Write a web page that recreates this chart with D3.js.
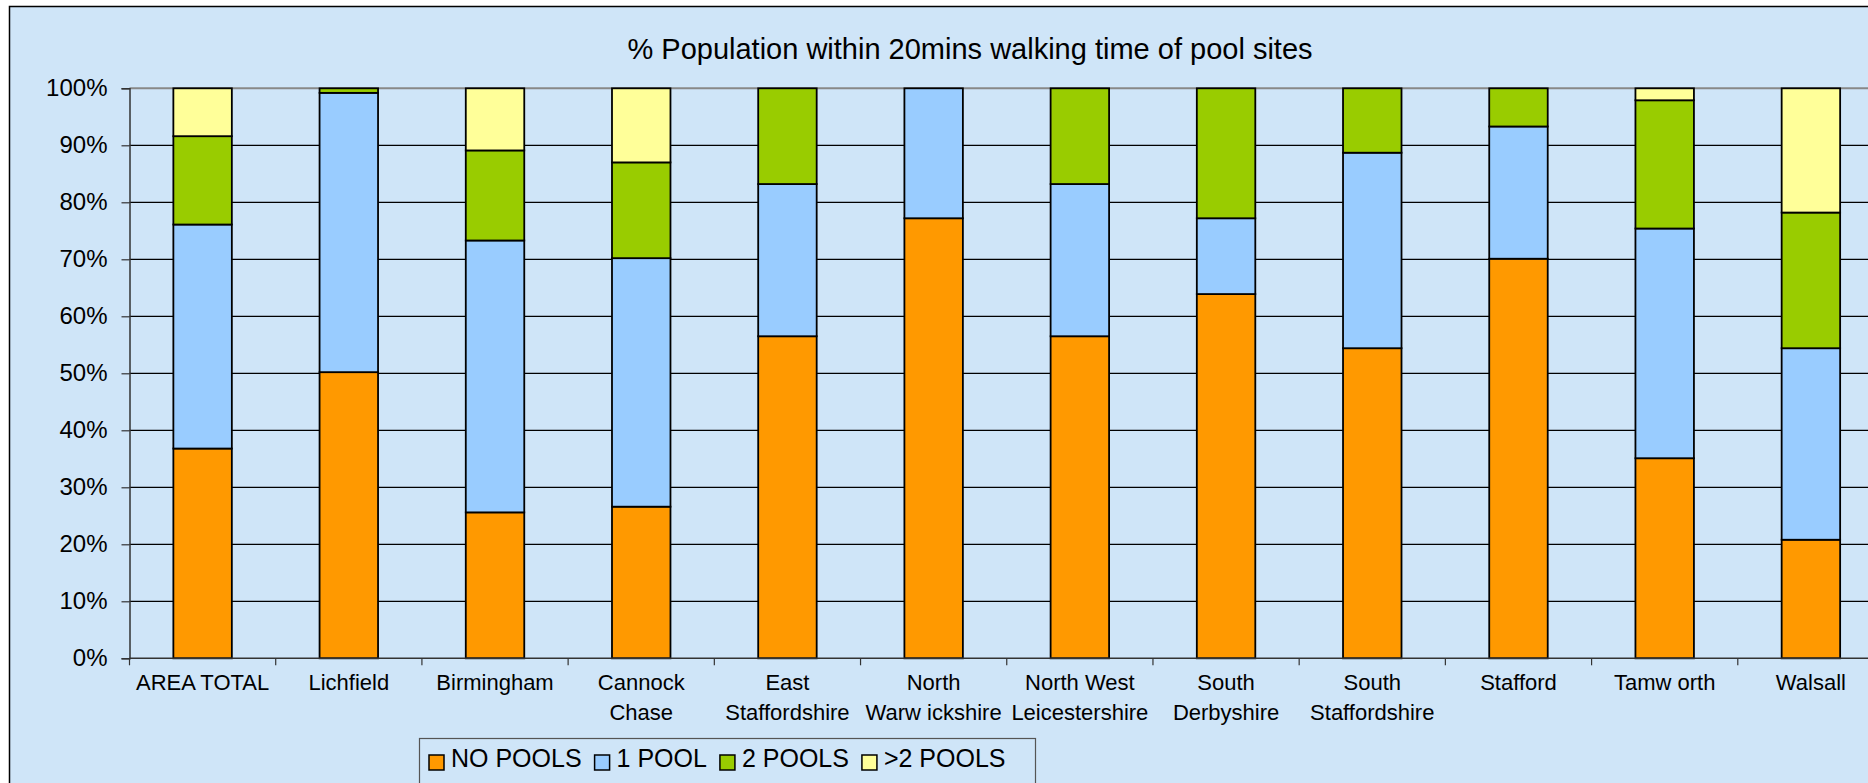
<!DOCTYPE html>
<html>
<head>
  <meta charset="utf-8">
  <script src="https://d3js.org/d3.v7.min.js"></script>
  <style>
    html, body { margin: 0; padding: 0; background: #fff; }
    svg { display: block; font-family: "Liberation Sans", Arial, sans-serif; }
  </style>
</head>
<body>
  <div id="chart"></div>
  <script>
    // categories (\n = line break in the axis label)
    var categories = ["AREA TOTAL", "Lichfield", "Birmingham", "Cannock\nChase", "East\nStaffordshire",
      "North\nWarw ickshire", "North West\nLeicestershire", "South\nDerbyshire", "South\nStaffordshire",
      "Stafford", "Tamw orth", "Walsall"];

    var seriesNames = ["NO POOLS", "1 POOL", "2 POOLS", ">2 POOLS"];
    var seriesColors = ["#FF9900", "#99CCFF", "#99CC00", "#FFFF99"];

    // percentages
    var noPools  = [36.8, 50.2, 25.6, 26.6, 56.5, 77.2, 56.5, 63.9, 54.4, 70.1, 35.1, 20.8];
    var onePool  = [39.3, 49.0, 47.7, 43.6, 26.7, 22.8, 26.7, 13.3, 34.3, 23.2, 40.3, 33.6];
    var twoPools = [15.5,  0.8, 15.8, 16.8, 16.8,  0.0, 16.8, 22.8, 11.3,  6.7, 22.5, 23.8];
    var morePools = [8.4,  0.0, 10.9, 13.0,  0.0,  0.0,  0.0,  0.0,  0.0,  0.0,  2.1, 21.8];

    var yTicks = [0, 10, 20, 30, 40, 50, 60, 70, 80, 90, 100];

    var W = 1868, H = 783;
    var plot = { left: 129.5, right: 1884, top: 88.3, bottom: 658.3 };

    var svg = d3.select("#chart").append("svg")
      .attr("width", W).attr("height", H);

    // chart area
    svg.append("rect")
      .attr("x", 9.5).attr("y", 6.5)
      .attr("width", W + 20).attr("height", H + 20)
      .attr("fill", "#CFE5F8")
      .attr("stroke", "#000").attr("stroke-width", 1.5);

    // title
    svg.append("text")
      .attr("x", 970).attr("y", 59)
      .attr("text-anchor", "middle")
      .attr("font-size", "29px")
      .attr("fill", "#000")
      .text("% Population within 20mins walking time of pool sites");

    var x = d3.scaleBand()
      .domain(categories)
      .range([plot.left, plot.right])
      .paddingInner(0.6)
      .paddingOuter(0.3);

    var y = d3.scaleLinear()
      .domain([0, 100])
      .range([plot.bottom, plot.top]);

    // gridlines
    svg.append("g")
      .selectAll("line")
      .data(yTicks.filter(d => d > 0))
      .enter().append("line")
      .attr("x1", plot.left).attr("x2", W)
      .attr("y1", d => y(d)).attr("y2", d => y(d))
      .attr("stroke", d => d === 100 ? "#888" : "#000")
      .attr("stroke-width", d => d === 100 ? 2 : 1.2);

    // stacked bars
    var rows = categories.map((c, i) => ({
      cat: c, "NO POOLS": noPools[i], "1 POOL": onePool[i], "2 POOLS": twoPools[i], ">2 POOLS": morePools[i]
    }));
    var stack = d3.stack().keys(seriesNames)(rows);

    svg.append("g")
      .selectAll("g")
      .data(stack)
      .enter().append("g")
      .attr("fill", (d, i) => seriesColors[i])
      .selectAll("rect")
      .data(d => d.filter(p => p[1] - p[0] > 0))
      .enter().append("rect")
      .attr("x", d => x(d.data.cat))
      .attr("width", x.bandwidth())
      .attr("y", d => y(d[1]))
      .attr("height", d => y(d[0]) - y(d[1]))
      .attr("stroke", "#000")
      .attr("stroke-width", 1.8);

    // y axis
    var yAxis = svg.append("g")
      .attr("transform", "translate(" + plot.left + ",0)")
      .call(d3.axisLeft(y).tickValues(yTicks).tickFormat(d => d + "%").tickSize(8).tickPadding(14));
    yAxis.select(".domain").attr("stroke", "#333").attr("stroke-width", 1.5);
    yAxis.selectAll(".tick line").attr("stroke", "#333").attr("stroke-width", 1.2);
    yAxis.selectAll("text")
      .attr("font-size", "24px")
      .attr("font-family", "Liberation Sans, Arial, sans-serif")
      .attr("fill", "#000");

    // x axis: ticks on category boundaries
    var xAxisG = svg.append("g");
    xAxisG.append("line")
      .attr("x1", plot.left).attr("x2", W)
      .attr("y1", plot.bottom).attr("y2", plot.bottom)
      .attr("stroke", "#333").attr("stroke-width", 1.5);
    xAxisG.selectAll(".xtick")
      .data(categories)
      .enter().append("line")
      .attr("x1", d => x(d) - x.step() * 0.3)
      .attr("x2", d => x(d) - x.step() * 0.3)
      .attr("y1", plot.bottom).attr("y2", plot.bottom + 7)
      .attr("stroke", "#333").attr("stroke-width", 1.2);

    var labels = xAxisG.selectAll(".xlabel")
      .data(categories)
      .enter().append("text")
      .attr("text-anchor", "middle")
      .attr("font-size", "22px")
      .attr("fill", "#000");
    labels.each(function (d) {
      var t = d3.select(this);
      d.split("\n").forEach((line, k) => {
        t.append("tspan")
          .attr("x", x(d) + x.bandwidth() / 2)
          .attr("y", plot.bottom + 32 + k * 30)
          .text(line);
      });
    });

    // legend
    var legend = svg.append("g");
    legend.append("rect")
      .attr("x", 419.5).attr("y", 738.5)
      .attr("width", 616).attr("height", 60)
      .attr("fill", "#CFE5F8")
      .attr("stroke", "#555").attr("stroke-width", 1.2);

    var lx = 429;
    seriesNames.forEach((name, i) => {
      legend.append("rect")
        .attr("x", lx).attr("y", 755)
        .attr("width", 15).attr("height", 15)
        .attr("fill", seriesColors[i])
        .attr("stroke", "#000").attr("stroke-width", 1.5);
      var t = legend.append("text")
        .attr("x", lx + 22).attr("y", 767)
        .attr("font-size", "25px")
        .attr("fill", "#000")
        .text(name);
      lx += 22 + t.node().getComputedTextLength() + 13;
    });
  </script>
</body>
</html>
